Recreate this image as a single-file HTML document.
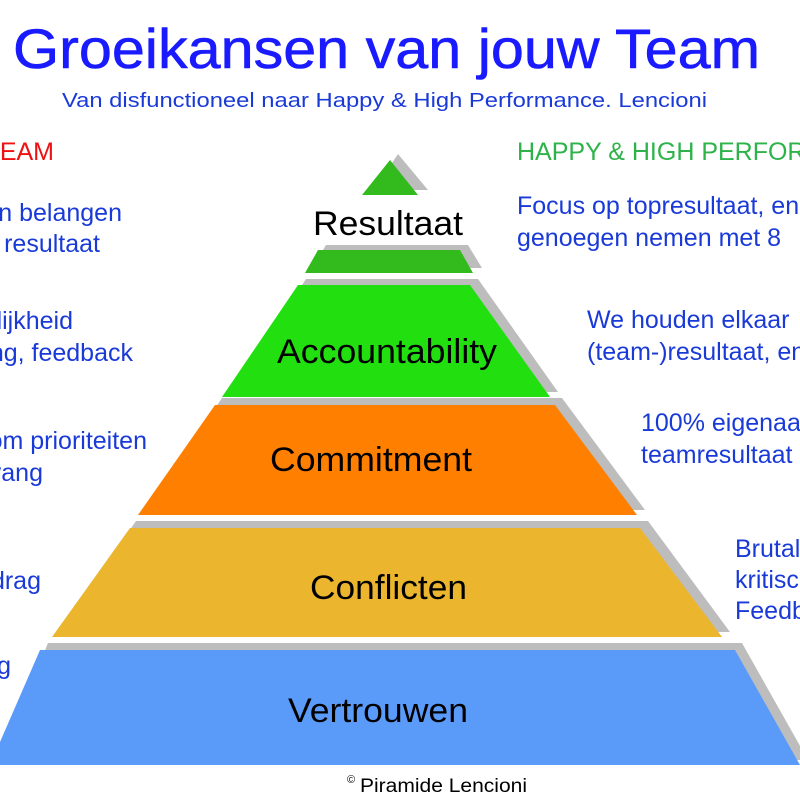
<!DOCTYPE html>
<html><head><meta charset="utf-8"><style>
body{margin:0;width:800px;height:800px;overflow:hidden;background:#fff}
svg{display:block}
text{font-family:"Liberation Sans",sans-serif}
</style></head><body>
<svg width="800" height="800" viewBox="0 0 800 800">
<g fill="#bdbdbd">
<polygon points="398,154 428,190 374,190"/>
<polygon points="326,245 468,245 482,268 312,268"/>
<polygon points="306,279 478,279 558,392 230,392"/>
<polygon points="222,398 562,398 645,510 146,510"/>
<polygon points="136,521 648,521 730,632 60,632"/>
<polygon points="48,643 742,643 808,760 0,760"/>
</g>
<polygon points="390,160 418,195 362,195" fill="#33bb1e"/>
<polygon points="318,250 460,250 473,273 305,273" fill="#33bb1e"/>
<polygon points="298,285 470,285 550,397 222,397" fill="#22e010"/>
<polygon points="215,405 555,405 637,515 138,515" fill="#ff8000"/>
<polygon points="130,528 640,528 722,637 52,637" fill="#ebb52e"/>
<polygon points="40,650 735,650 800,765 -10,765" fill="#5a9bfa"/>
<g font-size="34" fill="#000">
<text x="313" y="235" textLength="150" lengthAdjust="spacingAndGlyphs">Resultaat</text>
<text x="277" y="363" textLength="220" lengthAdjust="spacingAndGlyphs">Accountability</text>
<text x="270" y="471" textLength="202" lengthAdjust="spacingAndGlyphs">Commitment</text>
<text x="310" y="599" textLength="157" lengthAdjust="spacingAndGlyphs">Conflicten</text>
<text x="288" y="722" textLength="180" lengthAdjust="spacingAndGlyphs">Vertrouwen</text>
</g>
<text x="13" y="68" font-size="56" fill="#1a1aff" stroke="#1a1aff" stroke-width="0.6" textLength="747" lengthAdjust="spacingAndGlyphs">Groeikansen van jouw Team</text>
<text x="62" y="107" font-size="20" fill="#1a3ad8" textLength="645" lengthAdjust="spacingAndGlyphs">Van disfunctioneel naar Happy &amp; High Performance. Lencioni</text>
<text x="54" y="160" font-size="25" fill="#ee1111" text-anchor="end">TEAM</text>
<text x="517" y="160" font-size="25" fill="#2db34a">HAPPY &amp; HIGH PERFORMANCE</text>
<g font-size="25" fill="#1a3ad8" text-anchor="end">
<text x="122" y="221">en belangen</text>
<text x="100" y="252">t resultaat</text>
<text x="73" y="329">lijkheid</text>
<text x="133" y="361">ng, feedback</text>
<text x="147" y="449">om prioriteiten</text>
<text x="43" y="481">vang</text>
<text x="41" y="589">gedrag</text>
<text x="11" y="674">ng</text>
</g>
<g font-size="25" fill="#1a3ad8">
<text x="517" y="214">Focus op topresultaat, en niet</text>
<text x="517" y="246">genoegen nemen met 8</text>
<text x="587" y="328">We houden elkaar</text>
<text x="587" y="360">(team-)resultaat, en</text>
<text x="641" y="431">100% eigenaar</text>
<text x="641" y="463">teamresultaat</text>
<text x="735" y="557">Brutal</text>
<text x="735" y="588">kritisch</text>
<text x="735" y="619">Feedback</text>
</g>
<text x="347" y="783" font-size="11" fill="#000">©</text>
<text x="360" y="792" font-size="19" fill="#000" textLength="167" lengthAdjust="spacingAndGlyphs">Piramide Lencioni</text>
</svg>
</body></html>
